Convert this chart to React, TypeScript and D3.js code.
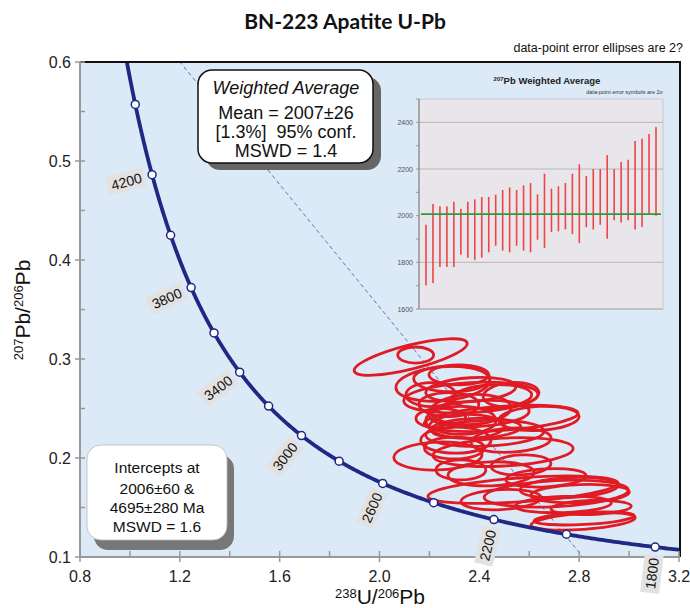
import React from "react";
import * as d3 from "d3";

// ---------- data ----------
const xTicks = [0.8, 1.2, 1.6, 2.0, 2.4, 2.8, 3.2];
const xMinorTicks = [1.0, 1.4, 1.8, 2.2, 2.6, 3.0];
const yTicks = [0.1, 0.2, 0.3, 0.4, 0.5, 0.6];
const yMinorTicks = [0.15, 0.25, 0.35, 0.45, 0.55];
const concordiaAges = [1800, 2000, 2200, 2400, 2600, 2800, 3000, 3200, 3400, 3600, 3800, 4000, 4200, 4400];
const concordiaLabelAges = [1800, 2200, 2600, 3000, 3400, 3800, 4200];
const interceptAges = [2006, 4695];

// error ellipses (centre, semi-axes in data units, tilt in degrees)
const ellCx = [2.125, 2.145, 2.254, 2.290, 2.318, 2.366, 2.527, 2.487, 2.639, 2.422, 2.234, 2.495, 2.447, 2.575, 2.708, 2.760, 2.804, 2.736, 2.820, 2.816, 2.326, 2.278, 2.366, 2.306, 2.366, 2.206, 2.386, 2.527, 2.246, 2.567, 2.326, 2.848, 2.667, 2.487, 2.400, 2.350, 2.450, 2.300];
const ellCy = [0.302, 0.304, 0.275, 0.280, 0.284, 0.261, 0.264, 0.240, 0.240, 0.225, 0.202, 0.206, 0.184, 0.168, 0.164, 0.170, 0.164, 0.153, 0.139, 0.136, 0.238, 0.254, 0.249, 0.218, 0.269, 0.264, 0.230, 0.218, 0.240, 0.193, 0.188, 0.150, 0.180, 0.158, 0.245, 0.232, 0.262, 0.210];
const ellRx = [0.233, 0.072, 0.189, 0.153, 0.120, 0.269, 0.112, 0.309, 0.161, 0.237, 0.177, 0.281, 0.173, 0.382, 0.289, 0.197, 0.197, 0.193, 0.201, 0.209, 0.141, 0.120, 0.161, 0.141, 0.181, 0.100, 0.181, 0.161, 0.100, 0.120, 0.100, 0.161, 0.161, 0.161, 0.200, 0.150, 0.160, 0.120];
const ellRy = [0.0121, 0.0081, 0.0172, 0.0131, 0.0101, 0.0152, 0.0121, 0.0121, 0.0121, 0.0131, 0.0141, 0.0141, 0.0121, 0.0121, 0.0131, 0.0101, 0.0091, 0.0081, 0.0061, 0.0081, 0.0141, 0.0121, 0.0152, 0.0131, 0.0121, 0.0121, 0.0101, 0.0121, 0.0101, 0.0101, 0.0101, 0.0071, 0.0091, 0.0101, 0.0130, 0.0120, 0.0120, 0.0110];
const ellTilt = [-14, 0, -5, 0, 0, -3, -5, -4, -3, -2, -2, -3, -2, -4, -3, -3, -2, -2, -3, -4, 0, 0, -3, 0, -4, 0, -2, -3, 0, -3, 0, -2, -3, -3, -3, 0, -3, 0];

// inset: 207Pb weighted average
const barTop = [1961, 2050, 2040, 2040, 2060, 2030, 2060, 2070, 2080, 2080, 2090, 2110, 2121, 2110, 2130, 2140, 2091, 2180, 2116, 2126, 2140, 2180, 2220, 2170, 2200, 2200, 2260, 2200, 2230, 2240, 2320, 2330, 2350, 2380];
const barBottom = [1701, 1711, 1780, 1780, 1780, 1833, 1820, 1811, 1820, 1843, 1871, 1850, 1843, 1871, 1850, 1843, 1897, 1861, 1930, 1933, 1941, 1921, 1883, 1951, 1941, 1961, 1901, 1980, 1971, 1980, 1941, 1951, 2009, 2000];
const insetTicks = [1600, 1800, 2000, 2200, 2400];
const insetMinor = [1700, 1900, 2100, 2300, 2500];
const insetGrid = [1800, 2200, 2400];
const weightedMean = 2007;

// ---------- constants ----------
const L238 = 1.55125e-4; // per Ma
const L235 = 9.8485e-4;
const U85 = 137.88;
const concX = (t: number) => 1 / (Math.exp(L238 * t) - 1);
const concY = (t: number) => (Math.exp(L235 * t) - 1) / (Math.exp(L238 * t) - 1) / U85;

const FONT = "'Liberation Sans', Arial, sans-serif";

export default function App() {
  const W = 690, H = 608;
  const x = d3.scaleLinear().domain([0.8, 3.2]).range([80, 679]);
  const y = d3.scaleLinear().domain([0.1, 0.6]).range([557, 62]);

  const ages = d3.range(1650, 4800, 5);
  const conc = d3.line<number>().x((t) => x(concX(t))).y((t) => y(concY(t))).curve(d3.curveLinear)(ages) || "";

  // discordia
  const [lo, up] = interceptAges;
  const x1 = concX(up), y1 = concY(up), x2 = concX(lo), y2 = concY(lo);
  const slope = (y2 - y1) / (x2 - x1);
  const xEnd = x2 + (0.1 - y2) / slope;

  // inset scales
  const iy = d3.scaleLinear().domain([1600, 2500]).range([309, 99]);
  const ix = d3.scalePoint<number>().domain(barTop.map((_, i) => i)).range([426, 656]);

  const labelEls = concordiaLabelAges.map((a) => {
    const px = x(concX(a)), py = y(concY(a));
    const qx = x(concX(a + 1)), qy = y(concY(a + 1));
    const len = Math.hypot(qx - px, qy - py);
    const tx = (qx - px) / len, ty = (qy - py) / len;
    const nx = ty, ny = -tx; // lower-left normal
    const gap = 11;
    const ex = px + nx * gap, ey = py + ny * gap;
    const ang = (Math.atan2(-ny, -nx) * 180) / Math.PI;
    const tw = String(a).length * 7.8;
    return (
      <g key={a} transform={`translate(${ex},${ey}) rotate(${ang})`}>
        <rect x={-tw - 4} y={-9.5} width={tw + 7} height={19} fill="#e2e2e2" />
        <text x={0} y={5} textAnchor="end" fontSize={14} fontFamily={FONT} fill="#111">{a}</text>
      </g>
    );
  });

  return (
    <svg width={W} height={H} style={{ position: "absolute", left: 0, top: 0, background: "#fff" }}>
      <defs>
        <clipPath id="plotClip">
          <rect x={80} y={62} width={599} height={495} />
        </clipPath>
      </defs>
      {/* title */}
      <text x={345} y={29} textAnchor="middle" fontSize={21} fontWeight="bold" fontFamily="Lato, 'Open Sans', sans-serif" fill="#111">BN-223 Apatite U-Pb</text>
      <text x={683} y={52} textAnchor="end" fontSize={12.5} fontFamily={FONT} fill="#111">data-point error ellipses are 2?</text>

      {/* plot background */}
      <rect x={80} y={62} width={599} height={495} fill="#dce9f6" />

      <g clipPath="url(#plotClip)">
        {/* discordia */}
        <line x1={x(x1)} y1={y(y1)} x2={x(xEnd)} y2={y(0.1)} stroke="#4a63b5" strokeWidth={0.9} strokeDasharray="4,3" />
        {/* ellipses */}
        {ellCx.map((cx, i) => {
          const ex = x(cx), ey = y(ellCy[i]);
          const rx = x(cx + ellRx[i]) - ex;
          const ry = ey - y(ellCy[i] + ellRy[i]);
          return (
            <ellipse key={i} cx={ex} cy={ey} rx={rx} ry={ry} transform={`rotate(${ellTilt[i]},${ex},${ey})`} fill="none" stroke="#e01b24" strokeWidth={2.8} />
          );
        })}
        {/* concordia */}
        <path d={conc} fill="none" stroke="#1f2883" strokeWidth={3.8} />
        {concordiaAges.map((a) => (
          <circle key={a} cx={x(concX(a))} cy={y(concY(a))} r={4} fill="#fff" stroke="#1f2883" strokeWidth={1.5} />
        ))}
      </g>

      {/* frame: top & right black */}
      <line x1={80} y1={62} x2={680} y2={62} stroke="#111" strokeWidth={2} />
      <line x1={680} y1={61} x2={680} y2={557} stroke="#111" strokeWidth={2} />

      {/* axes */}
      <line x1={80} y1={62} x2={80} y2={558} stroke="#999" strokeWidth={2} />
      <line x1={79} y1={557} x2={680} y2={557} stroke="#999" strokeWidth={2} />
      {yTicks.map((v) => (
        <g key={v}>
          <line x1={75} x2={85} y1={y(v)} y2={y(v)} stroke="#999" strokeWidth={1.5} />
          <text x={71} y={y(v) + 5.5} textAnchor="end" fontSize={16} fontFamily={FONT} fill="#222">{v.toFixed(1)}</text>
        </g>
      ))}
      {yMinorTicks.map((v) => (
        <line key={v} x1={80} x2={85} y1={y(v)} y2={y(v)} stroke="#999" strokeWidth={1.5} />
      ))}
      {xTicks.map((v) => (
        <g key={v}>
          <line x1={x(v)} x2={x(v)} y1={551} y2={562} stroke="#999" strokeWidth={1.5} />
          <text x={x(v)} y={582} textAnchor="middle" fontSize={16} fontFamily={FONT} fill="#222">{v.toFixed(1)}</text>
        </g>
      ))}
      {xMinorTicks.map((v) => (
        <line key={v} x1={x(v)} x2={x(v)} y1={551} y2={557} stroke="#999" strokeWidth={1.5} />
      ))}

      {/* concordia labels */}
      {labelEls}

      {/* axis titles */}
      <text x={380} y={604} textAnchor="middle" fontFamily={FONT} fill="#111">
        <tspan fontSize={13} dy={-6}>238</tspan>
        <tspan fontSize={21} dy={6}>U/</tspan>
        <tspan fontSize={13} dy={-6}>206</tspan>
        <tspan fontSize={21} dy={6}>Pb</tspan>
      </text>
      <text transform="translate(30,310) rotate(-90)" textAnchor="middle" fontFamily={FONT} fill="#111">
        <tspan fontSize={13} dy={-7}>207</tspan>
        <tspan fontSize={21} dy={7}>Pb/</tspan>
        <tspan fontSize={13} dy={-7}>206</tspan>
        <tspan fontSize={21} dy={7}>Pb</tspan>
      </text>

      {/* weighted average box */}
      <rect x={206} y={77} width={175} height={93} rx={14} fill="#666" />
      <rect x={198} y={70} width={175} height={93} rx={14} fill="#fff" stroke="#111" strokeWidth={1.5} />
      <g fontFamily={FONT} fill="#111" textAnchor="middle" fontSize={18}>
        <text x={286} y={94} fontStyle="italic">Weighted Average</text>
        <text x={286} y={119}>Mean = 2007±26</text>
        <text x={286} y={138}>{"[1.3%]\u00a0 95% conf."}</text>
        <text x={286} y={157}>MSWD = 1.4</text>
      </g>

      {/* intercepts box */}
      <rect x={94} y={455} width={140} height={95} rx={14} fill="#777" />
      <rect x={87} y={445} width={140} height={95} rx={14} fill="#fff" stroke="#bbb" strokeWidth={0.8} />
      <g fontFamily={FONT} fill="#111" textAnchor="middle" fontSize={15.5}>
        <text x={157} y={473}>Intercepts at</text>
        <text x={157} y={494}>2006±60 &amp;</text>
        <text x={157} y={513}>4695±280 Ma</text>
        <text x={157} y={532}>MSWD = 1.6</text>
      </g>

      {/* inset */}
      <g>
        <text x={547} y={84} textAnchor="middle" fontFamily={FONT} fontWeight="bold" fill="#222">
          <tspan fontSize={6} dy={-3}>207</tspan>
          <tspan fontSize={9.5} dy={3}>Pb Weighted Average</tspan>
        </text>
        <text x={663} y={94} textAnchor="end" fontSize={5.5} fontFamily={FONT} fill="#333">data-point error symbols are 2σ</text>
        <rect x={419} y={99} width={244} height={210} fill="#e8e6ea" stroke="#c8c8cc" strokeWidth={1} />
        {insetGrid.map((v) => (
          <line key={v} x1={419} x2={663} y1={iy(v)} y2={iy(v)} stroke="#a8a8a8" strokeWidth={0.8} />
        ))}
        <line x1={419} x2={419} y1={99} y2={309} stroke="#888" strokeWidth={1.2} />
        <line x1={419} x2={663} y1={309} y2={309} stroke="#aaa" strokeWidth={1} />
        {insetTicks.map((v) => (
          <g key={v}>
            <line x1={416} x2={419} y1={iy(v)} y2={iy(v)} stroke="#888" strokeWidth={0.8} />
            <text x={413} y={iy(v) + 2.5} textAnchor="end" fontSize={7} fontFamily={FONT} fill="#555">{v}</text>
          </g>
        ))}
        {insetMinor.map((v) => (
          <line key={v} x1={416} x2={419} y1={iy(v)} y2={iy(v)} stroke="#888" strokeWidth={0.8} />
        ))}
        {barTop.map((t, i) => (
          <line key={i} x1={ix(i)} x2={ix(i)} y1={iy(t)} y2={iy(barBottom[i])} stroke="#ee4444" strokeWidth={1.6} />
        ))}
        <line x1={421} x2={661} y1={iy(weightedMean)} y2={iy(weightedMean)} stroke="#2e9a3e" strokeWidth={1.8} />
      </g>
    </svg>
  );
}
